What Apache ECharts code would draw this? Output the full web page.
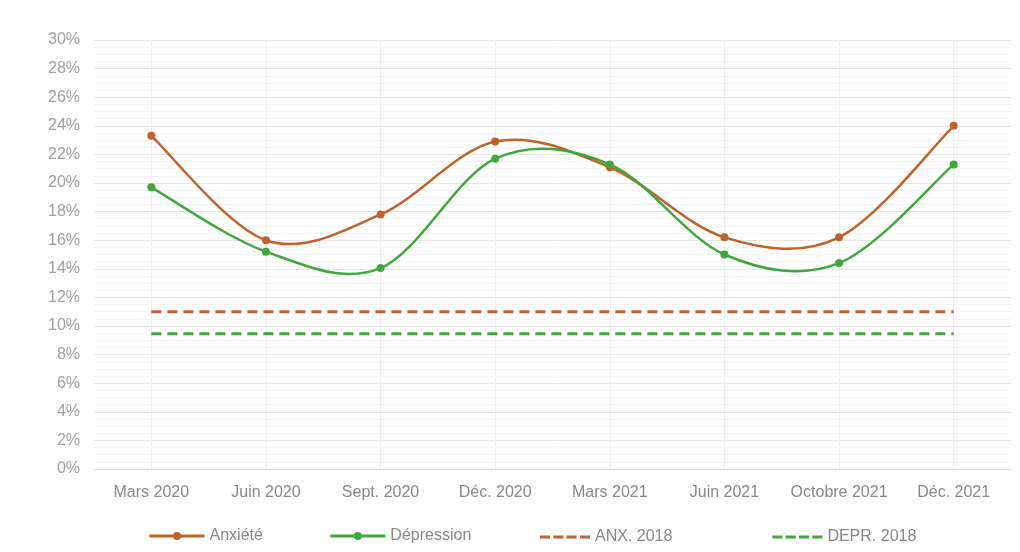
<!DOCTYPE html>
<html><head><meta charset="utf-8">
<script src="https://cdn.jsdelivr.net/npm/echarts@6/dist/echarts.min.js"></script>
<style>html,body{margin:0;padding:0;background:#fff}#c{width:1020px;height:552px}</style>
</head><body><div id="c"></div>
<script>
const categories = ['Mars 2020','Juin 2020','Sept. 2020','Déc. 2020','Mars 2021','Juin 2021','Octobre 2021','Déc. 2021'];
const anxiete = [23.3, 16.0, 17.8, 22.9, 21.1, 16.2, 16.2, 24.0];
const depression = [19.7, 15.2, 14.05, 21.7, 21.3, 15.0, 14.4, 21.3];
const anx2018 = [11.0, 11.0, 11.0, 11.0, 11.0, 11.0, 11.0, 11.0];
const depr2018 = [9.45, 9.45, 9.45, 9.45, 9.45, 9.45, 9.45, 9.45];
const yTicks = {min: 0, max: 30, interval: 2};

const cOr = '#c0622b', cGr = '#3fa83a';
const FONT = 'Liberation Sans';
const DASH_ICON = 'path://M0,0h10v3h-10z M13.3,0h10v3h-10z M26.6,0h10v3h-10z M40,0h10v3h-10z';

// Excel-like (Catmull-Rom) smooth curve built from library coordinates
function splineSeries(values, color, z) {
  return {
    type: 'custom', silent: true, z: z,
    data: [0],
    renderItem: function (params, api) {
      const pts = values.map((v, i) => api.coord([i, v]));
      let d = 'M' + pts[0][0] + ',' + pts[0][1];
      for (let i = 0; i < pts.length - 1; i++) {
        const p0 = pts[Math.max(i - 1, 0)], p1 = pts[i], p2 = pts[i + 1], p3 = pts[Math.min(i + 2, pts.length - 1)];
        const c1 = [p1[0] + (p2[0] - p0[0]) / 6, p1[1] + (p2[1] - p0[1]) / 6];
        const c2 = [p2[0] - (p3[0] - p1[0]) / 6, p2[1] - (p3[1] - p1[1]) / 6];
        d += ' C' + c1[0] + ',' + c1[1] + ' ' + c2[0] + ',' + c2[1] + ' ' + p2[0] + ',' + p2[1];
      }
      return {type: 'path', shape: {pathData: d}, style: {fill: 'none', stroke: color, lineWidth: 2.5}};
    }
  };
}

const legendText = {color: '#888', fontSize: 16, fontFamily: FONT};
const chart = echarts.init(document.getElementById('c'));
chart.setOption({
  animation: false,
  grid: {left: 94, right: 9, top: 40, bottom: 83},
  legend: [
    {
      top: 523, left: 143, itemGap: 66, itemWidth: 55, itemHeight: 10,
      textStyle: legendText,
      data: [
        {name: 'Anxiété', lineStyle: {opacity: 1, width: 3, color: cOr}},
        {name: 'Dépression', lineStyle: {opacity: 1, width: 3, color: cGr}}
      ]
    },
    {
      top: 524, left: 535, itemGap: 100, itemWidth: 50, itemHeight: 3,
      textStyle: legendText,
      data: [
        {name: 'ANX. 2018', icon: DASH_ICON},
        {name: 'DEPR. 2018', icon: DASH_ICON}
      ]
    }
  ],
  xAxis: {
    type: 'category', data: categories, boundaryGap: true,
    axisLine: {show: true, lineStyle: {color: '#ddd'}},
    axisTick: {show: false},
    axisLabel: {color: '#888', fontSize: 16, fontFamily: FONT, margin: 16, interval: 0},
    splitLine: {show: true, alignWithLabel: true, interval: 0, lineStyle: {color: '#eee'}}
  },
  yAxis: {
    type: 'value', min: yTicks.min, max: yTicks.max, interval: yTicks.interval,
    axisLabel: {color: '#a0a0a0', fontSize: 16, fontFamily: FONT, formatter: '{value}%', margin: 14},
    axisLine: {show: false}, axisTick: {show: false},
    splitLine: {lineStyle: {color: '#e6e6e6'}},
    minorTick: {show: false, splitNumber: 4},
    minorSplitLine: {show: true, lineStyle: {color: '#f4f4f4'}}
  },
  series: [
    {name: 'Anxiété', type: 'line', data: anxiete, symbol: 'circle', symbolSize: 8,
     itemStyle: {color: cOr}, lineStyle: {color: cOr, width: 2.5, opacity: 0}, z: 6},
    {name: 'Dépression', type: 'line', data: depression, symbol: 'circle', symbolSize: 8,
     itemStyle: {color: cGr}, lineStyle: {color: cGr, width: 2.5, opacity: 0}, z: 7},
    splineSeries(anxiete, cOr, 4),
    splineSeries(depression, cGr, 5),
    {name: 'ANX. 2018', type: 'line', data: anx2018, symbol: 'none',
     itemStyle: {color: cOr}, lineStyle: {color: cOr, width: 3, type: [10, 6]}},
    {name: 'DEPR. 2018', type: 'line', data: depr2018, symbol: 'none',
     itemStyle: {color: cGr}, lineStyle: {color: cGr, width: 3, type: [10, 6]}}
  ]
});
</script></body></html>
